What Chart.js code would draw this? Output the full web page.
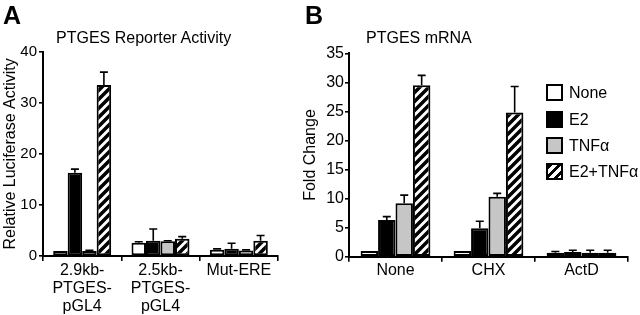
<!DOCTYPE html>
<html><head><meta charset="utf-8">
<script src="https://cdn.jsdelivr.net/npm/chart.js@4"></script>
<style>
body{margin:0;width:640px;height:315px;background:#fff;position:relative;overflow:hidden;font-family:'Liberation Sans',Arial,sans-serif;color:#000}
canvas{position:absolute;top:0}
#cA{left:0}
#cB{left:300px}
.panel{position:absolute;font-weight:bold;font-size:25px;line-height:1}
.title{position:absolute;font-size:16px;line-height:1;white-space:nowrap}
.leg{position:absolute;left:546px;width:17px;height:17px;box-sizing:border-box;border:2px solid #000}
.legt{position:absolute;left:569px;font-size:16px;line-height:17px;white-space:nowrap}
</style></head>
<body>
<canvas id="cA" width="300" height="315"></canvas>
<canvas id="cB" width="340" height="315"></canvas>
<div class="panel" style="left:3px;top:3px">A</div>
<div class="panel" style="left:305px;top:3px">B</div>
<div class="title" style="left:56px;top:30px">PTGES Reporter Activity</div>
<div class="title" style="left:366px;top:30px">PTGES mRNA</div>
<div id="legend"></div>
<script>
// ---- data ----
const seriesNames = ['None', 'E2', 'TNFα', 'E2+TNFα'];
const reporterCategories = [['2.9kb-', 'PTGES-', 'pGL4'], ['2.5kb-', 'PTGES-', 'pGL4'], 'Mut-ERE'];
const reporterNone = [1.0, 2.6, 1.2];
const reporterNoneErr = [0, 0.2, 0.2];
const reporterE2 = [16.3, 3.0, 1.4];
const reporterE2Err = [0.7, 2.3, 1.1];
const reporterTNF = [1.0, 2.9, 1.1];
const reporterTNFErr = [0.1, 0.1, 0.1];
const reporterCombo = [33.5, 3.4, 3.0];
const reporterComboErr = [2.5, 0.4, 1.0];
const reporterTicks = [0, 10, 20, 30, 40];

const mrnaCategories = ['None', 'CHX', 'ActD'];
const mrnaNone = [1.0, 1.0, 0.7];
const mrnaNoneErr = [0, 0, 0.2];
const mrnaE2 = [6.3, 4.9, 0.8];
const mrnaE2Err = [0.6, 1.2, 0.3];
const mrnaTNF = [9.2, 10.3, 0.7];
const mrnaTNFErr = [1.4, 0.6, 0.4];
const mrnaCombo = [29.5, 24.8, 0.7];
const mrnaComboErr = [1.7, 4.5, 0.4];
const mrnaTicks = [0, 5, 10, 15, 20, 25, 30, 35];

// ---- styling ----
Chart.defaults.font.family = "'Liberation Sans', Arial, sans-serif";
Chart.defaults.color = '#000';

function makeHatch() {
  const s = 9;
  const c = document.createElement('canvas');
  c.width = s; c.height = s;
  const g = c.getContext('2d');
  g.fillStyle = '#fff'; g.fillRect(0, 0, s, s);
  g.strokeStyle = '#000'; g.lineWidth = 3.5;
  g.beginPath();
  g.moveTo(-1, s + 1); g.lineTo(s + 1, -1);
  g.moveTo(-s / 2 - 1, s / 2 + 1); g.lineTo(s / 2 + 1, -s / 2 - 1);
  g.moveTo(s / 2 - 1, s * 1.5 + 1); g.lineTo(s * 1.5 + 1, s / 2 - 1);
  g.stroke();
  return g.createPattern(c, 'repeat');
}
const hatch = makeHatch();
const fills = ['#ffffff', '#000000', '#c6c6c6', hatch];

const errorBarPlugin = {
  id: 'errorBars',
  afterDatasetsDraw(chart) {
    const ctx = chart.ctx, y = chart.scales.y;
    chart.data.datasets.forEach((ds, di) => {
      const meta = chart.getDatasetMeta(di);
      meta.data.forEach((bar, i) => {
        const e = ds.errors[i];
        if (!e) return;
        const top = y.getPixelForValue(ds.data[i] + e);
        ctx.save();
        ctx.strokeStyle = '#000';
        ctx.lineWidth = 1.6;
        ctx.beginPath();
        ctx.moveTo(bar.x, bar.y); ctx.lineTo(bar.x, top);
        ctx.moveTo(bar.x - 4, top); ctx.lineTo(bar.x + 4, top);
        ctx.stroke();
        ctx.restore();
      });
    });
  }
};

function datasets(values, errors, catPct) {
  return values.map((v, k) => ({
    label: seriesNames[k],
    data: v,
    errors: errors[k],
    backgroundColor: fills[k],
    borderColor: '#000',
    borderWidth: 2,
    borderSkipped: false,
    barPercentage: 1.0,
    categoryPercentage: catPct
  }));
}

function makeChart(id, labels, values, errors, ticks, yTitle, yWidth, padRight, padTop, xHeight, catPct, yFont, yPad) {
  const maxV = ticks[ticks.length - 1];
  return new Chart(document.getElementById(id), {
    type: 'bar',
    data: { labels: labels, datasets: datasets(values, errors, catPct) },
    plugins: [errorBarPlugin],
    options: {
      responsive: false,
      animation: false,
      layout: { padding: { left: 0, right: padRight, top: padTop, bottom: 0 } },
      plugins: { legend: { display: false }, tooltip: { enabled: false }, title: { display: false } },
      scales: {
        x: {
          grid: { display: true, drawOnChartArea: false, drawTicks: true, tickLength: 5, color: '#000', lineWidth: 1.6, offset: true },
          border: { display: true, color: '#000', width: 2 },
          ticks: { color: '#000', font: { size: 16, lineHeight: 1.15 }, padding: 0, maxRotation: 0, autoSkip: false },
          afterFit(s) { s.height = xHeight; }
        },
        y: {
          min: 0, max: maxV,
          afterBuildTicks(s) { s.ticks = ticks.map(v => ({ value: v })); },
          ticks: { color: '#000', font: { size: yFont }, padding: yPad },
          grid: { display: true, drawOnChartArea: false, drawTicks: true, tickLength: 4, color: '#000', lineWidth: 1.6 },
          border: { display: true, color: '#000', width: 2 },
          title: { display: true, text: yTitle, color: '#000', font: { size: 16 }, padding: { top: 1, bottom: 0 } },
          afterFit(s) { s.width = yWidth; }
        }
      }
    }
  });
}

makeChart('cA', reporterCategories,
  [reporterNone, reporterE2, reporterTNF, reporterCombo],
  [reporterNoneErr, reporterE2Err, reporterTNFErr, reporterComboErr],
  reporterTicks, 'Relative Luciferase Activity', 43, 22, 51.7, 59, 0.74, 15, 2);

makeChart('cB', mrnaCategories,
  [mrnaNone, mrnaE2, mrnaTNF, mrnaCombo],
  [mrnaNoneErr, mrnaE2Err, mrnaTNFErr, mrnaComboErr],
  mrnaTicks, 'Fold Change', 49, 12, 53.3, 58.3, 0.75, 16, 1);

// ---- legend (HTML) ----
const legendTops = [84, 111, 137, 163];
const legendBg = ['#ffffff', '#000000', '#c6c6c6',
  'repeating-linear-gradient(135deg,#000 0 3px,#fff 3px 6.4px)'];
const legendEl = document.getElementById('legend');
seriesNames.forEach((name, k) => {
  const b = document.createElement('div');
  b.className = 'leg';
  b.style.top = legendTops[k] + 'px';
  b.style.background = legendBg[k];
  legendEl.appendChild(b);
  const t = document.createElement('div');
  t.className = 'legt';
  t.style.top = legendTops[k] + 'px';
  t.textContent = name;
  legendEl.appendChild(t);
});
</script>
</body></html>
